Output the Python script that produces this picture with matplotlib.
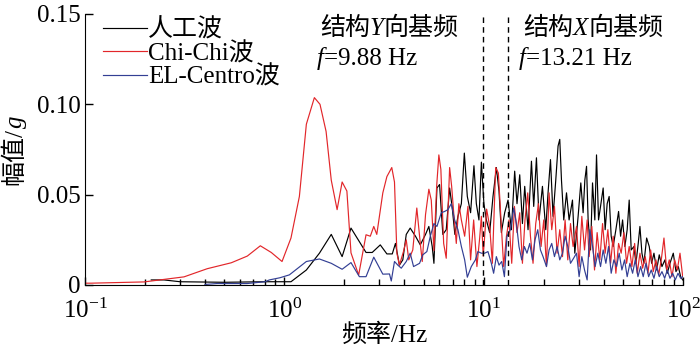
# -*- coding: utf-8 -*-
"""
Fourier amplitude spectra of the three input waves
"""

import numpy as np
from matplotlib import pyplot as plt

plt.rcParams['font.family'] = ['Liberation Serif', 'Noto Sans CJK SC']
plt.rcParams['mathtext.fontset'] = 'stix'
plt.rcParams['font.size'] = 18

# 人工波 (black)
art_f = [0.215, 0.249, 0.30, 0.5, 0.8, 0.97, 1.08, 1.29, 1.50, 1.72, 1.95, 2.16, 2.57, 2.76,
         3.03, 3.27, 3.48, 3.61, 3.78, 3.93, 4.09, 4.28, 4.55, 4.81, 5.11, 5.31, 5.52, 5.63,
         5.83, 6.01, 6.24, 6.49, 6.75, 6.96, 7.17, 7.43, 7.73, 8.00, 8.28, 8.60, 8.94, 9.19,
         9.47, 9.74, 10.03, 10.32, 10.72, 11.14, 11.58, 11.94, 12.27, 12.75, 13.25, 13.78,
         14.31, 14.70, 15.17, 15.65, 16.07, 16.70, 17.37, 17.83, 18.40, 18.96, 19.72, 20.49,
         21.04, 21.64, 22.29, 23.00, 23.62, 24.09, 24.57, 25.23, 26.04, 26.83, 27.90, 28.66,
         29.78, 30.72, 31.55, 32.18, 32.82, 33.43, 34.37, 35.17, 36.12, 36.83, 37.70, 38.58,
         39.77, 40.69, 41.65, 42.62, 43.63, 44.64, 46.06, 47.52, 48.63, 49.77, 51.11, 52.48,
         53.72, 54.98, 56.74, 58.07, 59.63, 60.81, 62.23, 63.68, 65.71, 67.72, 69.62, 71.50,
         73.76, 76.01, 78.44, 81.20, 83.39, 86.04, 89.39, 92.22, 94.72, 97.37, 99.65]
art_a = [0.0028, 0.0028, 0.0018, 0.0015, 0.0018, 0.0018, 0.0018, 0.0083, 0.0176, 0.028,
         0.0157, 0.0315, 0.018, 0.018, 0.0222, 0.0172, 0.0172, 0.023, 0.011, 0.0139, 0.028,
         0.0315, 0.027, 0.0222, 0.028, 0.0324, 0.0213, 0.012, 0.0537, 0.0556, 0.028, 0.0306,
         0.0537, 0.0426, 0.028, 0.038, 0.045, 0.073, 0.049, 0.040, 0.066, 0.045, 0.036, 0.068,
         0.045, 0.036, 0.029, 0.049, 0.065, 0.052, 0.029, 0.040, 0.047, 0.0306, 0.063, 0.045,
         0.061, 0.034, 0.0546, 0.0306, 0.0685, 0.0435, 0.0704, 0.036, 0.0546, 0.0306, 0.051,
         0.0694, 0.038, 0.058, 0.0769, 0.0806, 0.058, 0.036, 0.051, 0.036, 0.047, 0.0176,
         0.038, 0.0565, 0.040, 0.058, 0.0657, 0.036, 0.0194, 0.0565, 0.036, 0.072, 0.036,
         0.0435, 0.0537, 0.0306, 0.045, 0.049, 0.027, 0.0213, 0.0306, 0.0407, 0.027, 0.036,
         0.0213, 0.0306, 0.047, 0.0194, 0.0213, 0.012, 0.023, 0.0324, 0.0176, 0.012, 0.026,
         0.0213, 0.012, 0.0176, 0.0083, 0.0167, 0.0102, 0.0139, 0.0065, 0.012, 0.0176, 0.0074,
         0.0102, 0.0046, 0.0028]

# Chi-Chi波 (red)
chi_f = [0.1, 0.107, 0.198, 0.314, 0.41, 0.542, 0.652, 0.758, 0.86, 0.974, 1.08, 1.19, 1.29,
         1.415, 1.51, 1.62, 1.72, 1.84, 1.95, 2.06, 2.16, 2.36, 2.57, 2.70, 2.81, 2.91, 3.12,
         3.27, 3.46, 3.57, 3.67, 3.78, 3.96, 4.09, 4.21, 4.41, 4.62, 4.81, 4.92, 5.11, 5.31,
         5.46, 5.63, 5.81, 5.96, 6.10, 6.30, 6.49, 6.75, 6.91, 7.12, 7.29, 7.51, 7.73, 8.03,
         8.34, 8.60, 8.91, 9.25, 9.55, 9.74, 9.95, 10.35, 10.72, 11.06, 11.49, 11.85, 12.22,
         12.60, 13.01, 13.40, 13.83, 14.27, 14.70, 15.17, 15.65, 16.12, 16.64, 17.17, 17.69,
         18.25, 18.83, 19.41, 20.02, 20.66, 21.29, 21.96, 22.66, 23.35, 24.09, 24.86, 25.62,
         26.43, 27.27, 28.10, 29.23, 30.12, 31.08, 32.07, 33.05, 33.82, 34.89, 35.99, 37.09,
         38.27, 39.49, 40.69, 41.99, 43.33, 44.64, 46.06, 47.52, 48.97, 50.52, 52.12, 53.72,
         55.43, 57.20, 58.95, 60.81, 62.74, 64.65, 66.70, 68.82, 70.92, 73.17, 75.49, 77.81,
         80.27, 82.82, 85.35, 88.04, 90.86, 93.63, 96.59, 99.65]
chi_a = [0.0010, 0.0010, 0.0017, 0.0045, 0.009, 0.0123, 0.016, 0.0217, 0.018, 0.013, 0.026,
         0.049, 0.089, 0.1037, 0.100, 0.085, 0.058, 0.0417, 0.057, 0.052, 0.0178, 0.0055,
         0.0278, 0.027, 0.0324, 0.028, 0.051, 0.060, 0.065, 0.057, 0.0176, 0.011, 0.0185,
         0.025, 0.0139, 0.0194, 0.0426, 0.023, 0.013, 0.039, 0.053, 0.047, 0.019, 0.0546,
         0.072, 0.064, 0.023, 0.0148, 0.065, 0.0546, 0.036, 0.023, 0.045, 0.036, 0.027,
         0.0435, 0.0139, 0.036, 0.0102, 0.026, 0.038, 0.016, 0.042, 0.0324, 0.012, 0.065,
         0.062, 0.036, 0.0102, 0.027, 0.036, 0.012, 0.0435, 0.029, 0.040, 0.012, 0.036, 0.051,
         0.027, 0.012, 0.034, 0.045, 0.0213, 0.036, 0.0102, 0.051, 0.0306, 0.0435, 0.0176,
         0.0306, 0.0157, 0.036, 0.0139, 0.034, 0.0213, 0.0324, 0.0102, 0.038, 0.0194, 0.036,
         0.0157, 0.0324, 0.0083, 0.029, 0.0139, 0.034, 0.0176, 0.0306, 0.012, 0.027, 0.0065,
         0.023, 0.0176, 0.029, 0.012, 0.0213, 0.0102, 0.023, 0.0065, 0.0176, 0.0093, 0.0157,
         0.0065, 0.0194, 0.0074, 0.0139, 0.0056, 0.0139, 0.026, 0.0083, 0.0139, 0.0046,
         0.0139, 0.0083, 0.0176, 0.0046]

# EL-Centro波 (blue)
elc_f = [0.40, 0.46, 0.65, 0.80, 0.841, 0.95, 1.06, 1.29, 1.50, 1.72, 1.95, 2.16, 2.38, 2.57,
         2.81, 3.12, 3.37, 3.44, 3.57, 3.71, 3.86, 4.09, 4.28, 4.45, 4.77, 4.95, 5.19, 5.40,
         5.63, 5.83, 6.13, 6.37, 6.62, 6.88, 7.15, 7.43, 7.73, 8.03, 8.28, 8.67, 9.09, 9.36,
         9.74, 10.12, 10.51, 10.93, 11.22, 11.58, 11.94, 12.32, 12.71, 13.09, 13.62, 14.15,
         14.60, 15.04, 15.52, 16.01, 16.50, 17.03, 17.57, 18.10, 18.68, 19.27, 19.86, 20.66,
         21.29, 21.96, 22.66, 23.35, 24.09, 24.86, 25.62, 26.43, 27.27, 28.33, 29.23, 30.12,
         31.08, 32.07, 33.05, 34.09, 35.17, 36.24, 37.39, 38.58, 39.77, 41.03, 42.33, 43.63,
         45.01, 46.43, 47.85, 49.37, 50.93, 52.48, 54.16, 55.88, 57.60, 59.43, 61.30, 63.17,
         65.18, 67.24, 69.30, 71.50, 73.76, 76.01, 78.44, 80.92, 83.39, 86.04, 88.76, 91.49,
         94.39, 97.37, 99.65]
elc_a = [0.0003, 0.0008, 0.0008, 0.0018, 0.0028, 0.004, 0.0056, 0.013, 0.0144, 0.012, 0.0087,
         0.0124, 0.0046, 0.0046, 0.0154, 0.006, 0.0061, 0.0022, 0.013, 0.011, 0.0093, 0.013,
         0.0176, 0.0102, 0.012, 0.0167, 0.0185, 0.027, 0.034, 0.0324, 0.040, 0.0407, 0.0417,
         0.045, 0.036, 0.0306, 0.0213, 0.0139, 0.0043, 0.0102, 0.0139, 0.0185, 0.0176, 0.0176,
         0.0185, 0.012, 0.0065, 0.0157, 0.011, 0.013, 0.0046, 0.027, 0.0306, 0.0426, 0.034,
         0.0213, 0.0139, 0.0213, 0.0176, 0.023, 0.0139, 0.025, 0.0306, 0.0194, 0.0157, 0.0102,
         0.0194, 0.023, 0.0157, 0.0213, 0.0139, 0.0176, 0.027, 0.0213, 0.012, 0.015, 0.0176,
         0.0046, 0.0157, 0.0083, 0.0028, 0.0306, 0.0213, 0.0102, 0.0176, 0.0102, 0.0194, 0.012,
         0.0213, 0.0065, 0.0139, 0.0102, 0.0176, 0.0083, 0.0139, 0.0046, 0.012, 0.0065, 0.0139,
         0.0046, 0.0102, 0.0046, 0.012, 0.0046, 0.0083, 0.0037, 0.0102, 0.0046, 0.0074, 0.0037,
         0.0083, 0.0037, 0.0065, 0.0028, 0.0065, 0.0037, 0.0046]

# structure fundamental frequencies
f_y = 9.88
f_x = 13.21

fig = plt.figure(figsize=(7, 3.47), dpi=100)
ax = fig.add_axes([0.1214, 0.1787, 0.8543, 0.781])

ax.plot(art_f, art_a, color='k', lw=0.85, label='人工波')
ax.plot(chi_f, chi_a, color='#e2262a', lw=0.85, label='Chi-Chi波')
ax.plot(elc_f, elc_a, color='#333f94', lw=0.85, label='EL-Centro波')

ax.axvline(f_y, color='k', lw=1.0, ls=(0, (4, 3)))
ax.axvline(f_x, color='k', lw=1.0, ls=(0, (4, 3)))

ax.set_xscale('log')
ax.set_xlim(0.1, 100)
ax.set_ylim(0, 0.15)
ax.set_yticks([0, 0.05, 0.10, 0.15])
ax.set_yticklabels(['0', '0.05', '0.10', '0.15'])

ax.spines['top'].set_visible(False)
ax.spines['right'].set_visible(False)
ax.tick_params(which='major', direction='in', length=6, width=1)
ax.tick_params(which='minor', direction='in', length=4, width=1)
ax.tick_params(axis='x', which='major', pad=10)
ax.tick_params(axis='y', pad=3)

ax.set_xlabel('频率/Hz', labelpad=0)

# y label: CJK text plus italic g, chained so the baselines line up
yl1 = fig.text(0.038, 0.55, '幅值/', rotation=90, ha='right', va='center')
ax.annotate('g', xy=(1, 1), xycoords=yl1, rotation=90, ha='right', va='bottom',
            fontstyle='italic')


def mixed_text(x, y, parts):
    # parts: list of (string, italic) written one after another
    t = ax.text(x, y, parts[0][0], transform=ax.transAxes, va='bottom', ha='left',
                fontstyle='italic' if parts[0][1] else 'normal')
    for s, it in parts[1:]:
        t = ax.annotate(s, xy=(1, 0), xycoords=t, va='bottom', ha='left',
                        fontstyle='italic' if it else 'normal')


mixed_text(0.393, 0.905, [('结构', False), ('Y', True), ('向基频', False)])
mixed_text(0.388, 0.795, [('f', True), ('=9.88 Hz', False)])
mixed_text(0.733, 0.905, [('结构', False), ('X', True), ('向基频', False)])
mixed_text(0.726, 0.795, [('f', True), ('=13.21 Hz', False)])

ax.legend(loc='upper left', bbox_to_anchor=(0.03, 0.985), frameon=False, handlelength=1.75,
          handletextpad=0.05, labelspacing=0.02, borderpad=0, borderaxespad=0)

plt.savefig('out.png', dpi=100)
